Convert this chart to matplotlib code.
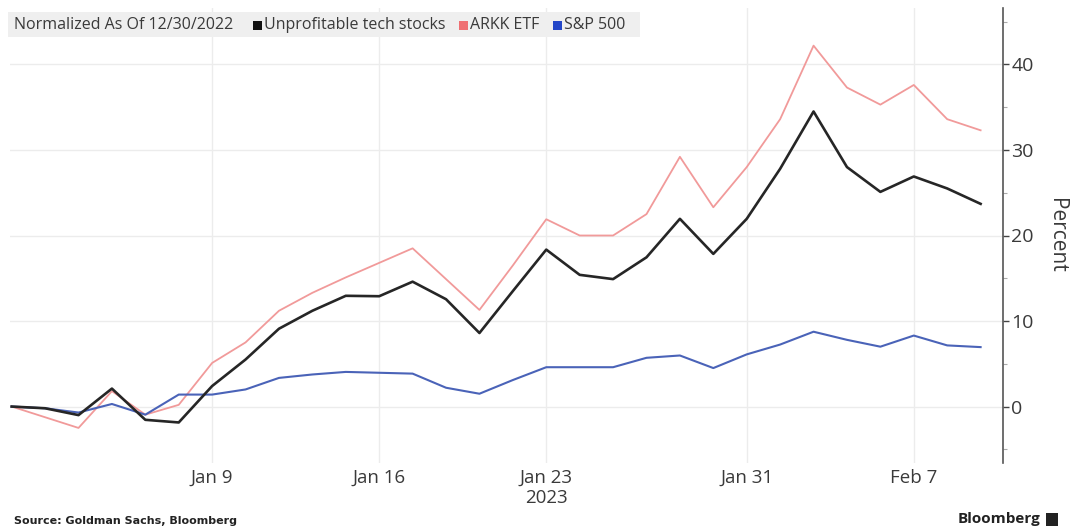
import matplotlib
matplotlib.use("Agg")
import matplotlib.pyplot as plt
from matplotlib.patches import Rectangle
from matplotlib.ticker import MultipleLocator
import pandas as pd

# Weekday series, normalized to 12/30/2022 (percent change)
dates = pd.bdate_range("2022-12-30", "2023-02-09")

unprofitable_tech = [0.0, -0.2, -1.0, 2.1, -1.55, -1.86, 2.4, 5.5, 9.1, 11.2,
                     12.95, 12.9, 14.6, 12.55, 8.6, 13.5, 18.35, 15.4, 14.9, 17.45,
                     21.95, 17.85, 21.95, 27.8, 34.5, 28.0, 25.1, 26.9, 25.5, 23.7]
arkk_etf = [0.0, -1.25, -2.5, 1.8, -0.95, 0.2, 5.1, 7.5, 11.2, 13.3,
            15.1, 16.8, 18.5, 14.9, 11.3, 16.5, 21.9, 20.0, 20.0, 22.5,
            29.2, 23.3, 28.0, 33.6, 42.2, 37.3, 35.3, 37.6, 33.6, 32.3]
sp500 = [0.0, -0.2, -0.7, 0.3, -0.95, 1.4, 1.4, 2.0, 3.35, 3.75,
         4.05, 3.95, 3.85, 2.2, 1.5, 3.1, 4.6, 4.6, 4.6, 5.7,
         5.97, 4.5, 6.1, 7.25, 8.75, 7.8, 7.0, 8.3, 7.15, 6.95]

tick_dates = ["2023-01-09", "2023-01-16", "2023-01-23", "2023-01-31", "2023-02-07"]
tick_labels = ["Jan 9", "Jan 16", "Jan 23", "Jan 31", "Feb 7"]
year_label = "2023"

series_names = ["Unprofitable tech stocks", "ARKK ETF", "S&P 500"]
line_colors = ["#262626", "#f19a9a", "#4a63b8"]
legend_colors = ["#111111", "#ef6f72", "#2346c8"]

plt.rcParams["font.family"] = ["Open Sans", "DejaVu Sans"]
text_color = "#3a3a3a"

fig = plt.figure(figsize=(10.71, 5.32), dpi=100)
W, H = 1071, 532
ax = fig.add_axes([10 / W, 1 - 463 / H, (1003 - 10) / W, (463 - 8) / H])

x = list(range(len(dates)))
ax.plot(x, arkk_etf, color=line_colors[1], lw=1.3, zorder=3)
ax.plot(x, sp500, color=line_colors[2], lw=1.5, zorder=4)
ax.plot(x, unprofitable_tech, color=line_colors[0], lw=1.9, zorder=5)

ax.set_xlim(-0.05, 29.67)
ax.set_ylim(-6.6, 46.6)

# x ticks at weekday positions of the labelled dates
pos = {d.strftime("%Y-%m-%d"): i for i, d in enumerate(dates)}
xt = [pos[d] for d in tick_dates]
ax.set_xticks(xt)
ax.set_xticklabels(tick_labels, fontsize=13.5, color=text_color)
ax.tick_params(axis="x", length=0, pad=4)
ax.text(pos["2023-01-23"], -0.057, year_label, transform=ax.get_xaxis_transform(),
        ha="center", va="top", fontsize=13.5, color=text_color)

# y axis on the right
ax.yaxis.tick_right()
ax.yaxis.set_label_position("right")
ax.yaxis.set_major_locator(MultipleLocator(10))
ax.yaxis.set_minor_locator(MultipleLocator(5))
ax.tick_params(axis="y", which="major", length=4, width=1, color="#444444",
               labelsize=14, labelcolor=text_color, pad=2, direction="out")
ax.tick_params(axis="y", which="minor", length=3, width=0.8, color="#aaaaaa", direction="out")
ax.set_ylabel("Percent", rotation=270, labelpad=24, fontsize=15, color=text_color)

for s in ["top", "left", "bottom"]:
    ax.spines[s].set_visible(False)
ax.spines["right"].set_color("#555555")
ax.spines["right"].set_linewidth(1.2)

ax.grid(True, which="major", color="#ececec", lw=1.0)
ax.set_axisbelow(True)

# legend band
fig.patches.append(Rectangle((8 / W, 1 - 37 / H), (640 - 8) / W, 25 / H,
                             transform=fig.transFigure, facecolor="#efefef",
                             edgecolor="none", zorder=6))
ly = 1 - 25 / H
fig.text(14 / W, ly, "Normalized As Of 12/30/2022", fontsize=11.5, color=text_color,
         va="center", ha="left", zorder=7)
legend_x = [253, 459, 553]
for lx, name, c in zip(legend_x, series_names, legend_colors):
    fig.patches.append(Rectangle((lx / W, ly - 4.5 / H), 9 / W, 9 / H,
                                 transform=fig.transFigure, facecolor=c,
                                 edgecolor="none", zorder=7))
    fig.text((lx + 11) / W, ly, name, fontsize=11.5, color=text_color,
             va="center", ha="left", zorder=7)

# footer
fig.text(14 / W, 1 - 521 / H, "Source: Goldman Sachs, Bloomberg", fontsize=8.0,
         fontweight="bold", family=["DejaVu Sans"],
         color="#222222", va="center", ha="left")
fig.text(1040 / W, 1 - 519 / H, "Bloomberg", fontsize=11, fontweight="bold",
         color="#222222", va="center", ha="right")
fig.patches.append(Rectangle((1046 / W, 1 - 526 / H), 12 / W, 13 / H,
                             transform=fig.transFigure, facecolor="#222222",
                             edgecolor="none"))

fig.savefig("out.png", dpi=100, facecolor="white")
